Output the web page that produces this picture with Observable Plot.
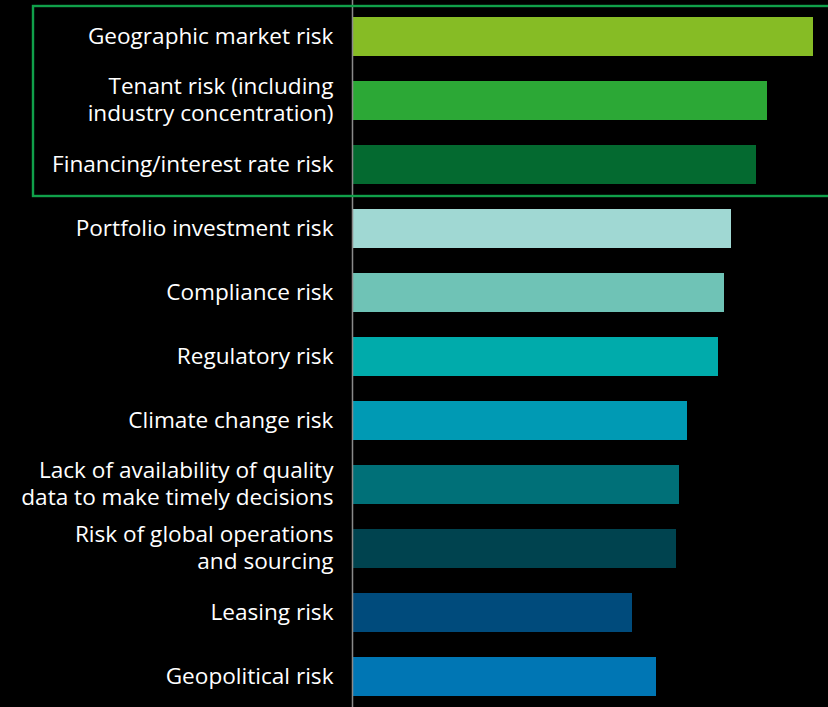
<!DOCTYPE html>
<html>
<head>
<meta charset="utf-8">
<script src="https://cdn.jsdelivr.net/npm/d3@7"></script>
<script src="https://cdn.jsdelivr.net/npm/@observablehq/plot@0.6"></script>
<style>
  html, body { margin: 0; padding: 0; background: #000; }
  #chart svg { display: block; }
</style>
</head>
<body>
<div id="chart"></div>
<script>
const categories = [
  "Geographic market risk",
  "Tenant risk (including industry concentration)",
  "Financing/interest rate risk",
  "Portfolio investment risk",
  "Compliance risk",
  "Regulatory risk",
  "Climate change risk",
  "Lack of availability of quality data to make timely decisions",
  "Risk of global operations and sourcing",
  "Leasing risk",
  "Geopolitical risk"
];
const labels = [
  "Geographic market risk",
  "Tenant risk (including\nindustry concentration)",
  "Financing/interest rate risk",
  "Portfolio investment risk",
  "Compliance risk",
  "Regulatory risk",
  "Climate change risk",
  "Lack of availability of quality\ndata to make timely decisions",
  "Risk of global operations\nand sourcing",
  "Leasing risk",
  "Geopolitical risk"
];
const values = [46.1, 41.5, 40.4, 37.9, 37.2, 36.6, 33.5, 32.7, 32.4, 28.0, 30.4];
const colors = ["#86bc25", "#2ca836", "#046a30", "#a0d8d3", "#6fc3b6", "#00abab",
                "#009ab4", "#007078", "#00434f", "#004b7c", "#0076b4"];
const highlighted = ["Geographic market risk", "Tenant risk (including industry concentration)", "Financing/interest rate risk"];

const data = categories.map((c, i) => ({name: c, label: labels[i], value: values[i], color: colors[i]}));

const plot = Plot.plot({
  width: 828,
  height: 707,
  marginLeft: 352,
  marginRight: 0,
  marginTop: 16,
  marginBottom: 10,
  style: {background: "#000", fontFamily: "'Open Sans', sans-serif"},
  x: {domain: [0, 47.6], axis: null},
  y: {domain: categories, axis: null, paddingInner: 0.39, paddingOuter: 0},
  color: {type: "identity"},
  marks: [
    Plot.barX(data, {x: "value", y: "name", fill: "color"}),
    Plot.ruleX([0], {stroke: "#8a8a8a", strokeWidth: 1.5, insetTop: -16, insetBottom: -10}),
    Plot.text(data, {
      x: 0, y: "name", text: "label", textAnchor: "end", dx: -19, dy: -2,
      fill: "#ffffff", fontSize: 22.6, lineHeight: 1.2
    })
  ]
});

document.getElementById("chart").appendChild(plot);

// Highlight box around the top group, positioned from the y scale
const yScale = plot.scale("y");
const bw = yScale.bandwidth;
const boxTop = yScale.apply(highlighted[0]) - 11;
const boxBottom = yScale.apply(highlighted[highlighted.length - 1]) + bw + 12;
d3.select(plot).append("rect")
  .attr("x", 33).attr("y", boxTop)
  .attr("width", 828).attr("height", boxBottom - boxTop)
  .attr("fill", "none").attr("stroke", "#10a04a").attr("stroke-width", 2.4);
</script>
</body>
</html>
